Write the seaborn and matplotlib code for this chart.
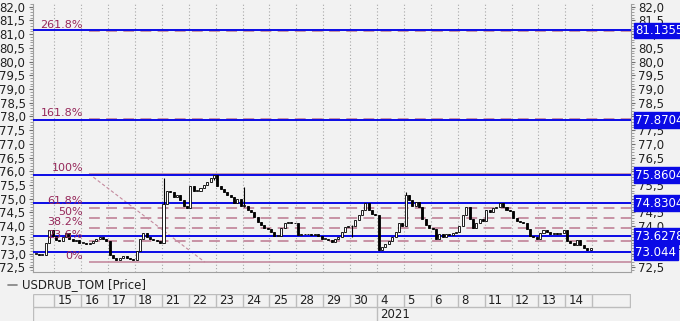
import matplotlib
matplotlib.use("Agg")
import matplotlib.pyplot as plt
from matplotlib.lines import Line2D
from matplotlib.ticker import MultipleLocator, FuncFormatter
import seaborn as sns

# ---------------- data ----------------
series_name = "USDRUB_TOM [Price]"
day_labels = ["15", "16", "17", "18", "21", "22", "23", "24", "25", "28", "29", "30",
              "4", "5", "6", "8", "11", "12", "13", "14"]
year_label = "2021"
year_start_day = 12          # index in day_labels where 2021 begins

first_open = 73.0
partial_day_closes = [73.0, 72.95, 72.95, 73.4, 73.85, 73.65]
day_closes = [
    [73.5, 73.45, 73.6, 73.75, 73.55, 73.45, 73.5, 73.4],      # 15
    [73.4, 73.35, 73.4, 73.45, 73.55, 73.6, 73.55, 73.45],     # 16
    [72.95, 72.85, 72.78, 72.85, 72.9, 72.85, 72.8, 72.78],    # 17
    [73.1, 73.55, 73.75, 73.6, 73.55, 73.5, 73.45, 73.38],     # 18
    [74.8, 75.3, 75.25, 75.05, 75.15, 74.95, 74.75, 74.65],    # 21
    [75.45, 75.3, 75.3, 75.4, 75.5, 75.6, 75.75, 75.85],       # 22
    [75.45, 75.35, 75.25, 75.15, 75.05, 74.85, 75.0, 74.75],   # 23
    [74.75, 74.6, 74.5, 74.35, 74.15, 74.05, 73.95, 73.9],     # 24
    [73.8, 73.65, 73.65, 73.95, 74.1, 74.15, 74.12, 74.1],     # 25
    [73.68, 73.72, 73.7, 73.72, 73.68, 73.7, 73.65, 73.55],    # 28
    [73.55, 73.48, 73.43, 73.55, 73.62, 73.8, 73.97, 74.02],   # 29
    [74.0, 74.22, 74.4, 74.6, 74.85, 74.6, 74.45, 74.42],      # 30
    [73.15, 73.25, 73.35, 73.45, 73.6, 73.8, 74.1, 74.0],      # 4
    [75.15, 74.95, 74.75, 74.9, 74.7, 74.25, 74.05, 73.95],    # 5
    [73.9, 73.55, 73.7, 73.6, 73.72, 73.68, 73.75, 73.8],      # 6
    [74.0, 74.4, 74.7, 74.25, 73.95, 74.1, 74.25, 74.2],       # 8
    [74.6, 74.5, 74.65, 74.7, 74.85, 74.7, 74.6, 74.55],       # 11
    [74.3, 74.2, 74.15, 74.1, 73.9, 73.65, 73.6, 73.55],       # 12
    [73.75, 73.85, 73.8, 73.7, 73.75, 73.7, 73.75, 73.85],     # 13
    [73.45, 73.4, 73.3, 73.5, 73.3, 73.2, 73.15, 73.2],        # 14
]
# wick extremes that stick out of the bodies: (day, candle, high, low)
wick_extremes = [(4, 0, 75.75, 73.8), (7, 0, 75.42, 74.7), (11, 0, 74.05, 73.6),
                 (13, 0, 75.25, 74.2), (5, 7, 75.88, 75.7)]

fib_low, fib_high = 72.69, 75.91
fib_ratios = [0.0, 0.236, 0.382, 0.5, 0.618, 1.0, 1.618, 2.618]
fib_names = ["0%", "23.6%", "38.2%", "50%", "61.8%", "100%", "161.8%", "261.8%"]
fib_start_day = 1.29
trend_end_day = 5.6

blue_levels = [81.1355, 77.8704, 75.8604, 74.8304, 73.6278, 73.044]
blue_names = ["81.1355", "77.8704", "75.8604", "74.8304", "73.6278", "73.044"]
last_price_label = "73.2100"

# ---------------- style ----------------
sns.set_theme(style="white")
plt.rcParams["font.family"] = ["DejaVu Sans"]
BG = "#F2F2F2"
FIB_TXT = "#96285A"
FIB_LINE = "#C48A9E"
BLUE = "#0A0AE6"
CPD = 8  # candles per day

fig = plt.figure(figsize=(6.8, 3.21), dpi=100, facecolor=BG)
W, H = 680, 321
ax = fig.add_axes([32.5 / W, (H - 272) / H, (631 - 32.5) / W, (272 - 4) / H])
ax.set_facecolor(BG)

# build candles
xs, opens, closes = [], [], []
prev = first_open
for j, c in enumerate(partial_day_closes):
    xs.append((j - len(partial_day_closes) + 0.5) / CPD)
    opens.append(prev); closes.append(c); prev = c
for k, day in enumerate(day_closes):
    for j, c in enumerate(day):
        xs.append(k + (j + 0.5) / CPD)
        opens.append(prev); closes.append(c); prev = c
highs = [max(o, c) for o, c in zip(opens, closes)]
lows = [min(o, c) for o, c in zip(opens, closes)]
off = len(partial_day_closes)
for k, j, hi, lo in wick_extremes:
    i = off + k * CPD + j
    highs[i] = max(highs[i], hi)
    lows[i] = min(lows[i], lo)

ax.vlines(xs, lows, highs, color="black", lw=0.8, zorder=4)
for x, o, c in zip(xs, opens, closes):
    up = c >= o
    h = max(abs(c - o), 0.02)
    ax.bar(x, h, bottom=min(o, c), width=0.075,
           color="white" if up else "black", edgecolor="black", lw=0.6, zorder=5)

# vertical day grid
for k in range(len(day_labels) + 1):
    ax.axvline(k, color="#A8A8A8", lw=0.8, ls=(0, (1, 2)), zorder=1)

# blue levels
for lv in blue_levels:
    ax.axhline(lv, color=BLUE, lw=1.4, zorder=3)

xmin, xmax = -0.807, 21.44
# fibonacci levels
for r, name in zip(fib_ratios, fib_names):
    lv = fib_low + r * (fib_high - fib_low)
    if r in (0.0, 1.0):
        ax.hlines(lv, fib_start_day, xmax, color=FIB_LINE, lw=1.2, zorder=2)
    else:
        ax.hlines(lv, fib_start_day, xmax, color=FIB_LINE, lw=1.3,
                  linestyles=(0, (6, 3.5)), zorder=2)
    ax.text(1.07, lv + 0.04, name, color=FIB_TXT, fontsize=8, ha="right",
            va="bottom", zorder=6)
sns.lineplot(x=[fib_start_day, trend_end_day], y=[fib_high, fib_low], ax=ax,
             color=FIB_LINE, lw=0.8, linestyle=(0, (3, 2)), zorder=2)

ax.set_xlim(xmin, xmax)
ax.set_ylim(72.33, 82.1)
ax.set_xticks([])
ax.yaxis.set_major_locator(MultipleLocator(0.5))
ax.yaxis.set_minor_locator(MultipleLocator(0.1))
ax.yaxis.set_major_formatter(FuncFormatter(lambda v, p: f"{v:.1f}".replace(".", ",")))
ax.tick_params(axis="y", which="major", length=3, width=0.8, color="#707070",
               labelsize=8.5, labelcolor="#202020", left=True, right=True,
               labelleft=True, labelright=True, pad=2)
ax.tick_params(axis="y", which="minor", length=2, width=0.6, color="#909090",
               left=True, right=True)
for s in ["top"]:
    ax.spines[s].set_visible(False)
for s in ["left", "right", "bottom"]:
    ax.spines[s].set_color("#A0A0A0")
    ax.spines[s].set_linewidth(0.8)

# right side labels
ax.text(1.007, 73.25, last_price_label, transform=ax.get_yaxis_transform(),
        fontsize=8.5, color="#404040", va="center", ha="left", zorder=7, clip_on=False)
for lv, name in zip(blue_levels, blue_names):
    ax.text(1.007, lv, name, transform=ax.get_yaxis_transform(), fontsize=8.5,
            color="white", va="center", ha="left", zorder=8, clip_on=False,
            bbox=dict(boxstyle="square,pad=0.12", fc=BLUE, ec=BLUE))

# legend
fig.add_artist(Line2D([8 / W, 17 / W], [1 - 285 / H] * 2, color="#808080", lw=1.2))
fig.text(22 / W, 1 - 285 / H, series_name, fontsize=8.5, color="#202020",
         va="center", ha="left")

# date rows
axd = fig.add_axes([32.5 / W, 0, (631 - 32.5) / W, (321 - 294) / H])
axd.set_facecolor(BG)
axd.set_xlim(xmin, xmax)
axd.set_ylim(27, 0)
axd.axis("off")
axd.hlines([0.4, 13], xmin, xmax, color="#BDBDBD", lw=1.0)
axd.vlines([xmin] + list(range(len(day_labels) + 1)), 0, 13, color="#BDBDBD", lw=1.0)
axd.vlines([xmax - 0.02], 0, 13, color="#BDBDBD", lw=1.0)
axd.vlines([xmin + 0.02, year_start_day], 13, 27, color="#BDBDBD", lw=1.0)
for k, lab in enumerate(day_labels):
    axd.text(k + 0.12, 6.8, lab, fontsize=8.5, color="#202020", va="center", ha="left")
axd.text(year_start_day + 0.12, 20.5, year_label, fontsize=8.5, color="#202020",
         va="center", ha="left")

fig.savefig("out.png", dpi=100, facecolor=BG)
